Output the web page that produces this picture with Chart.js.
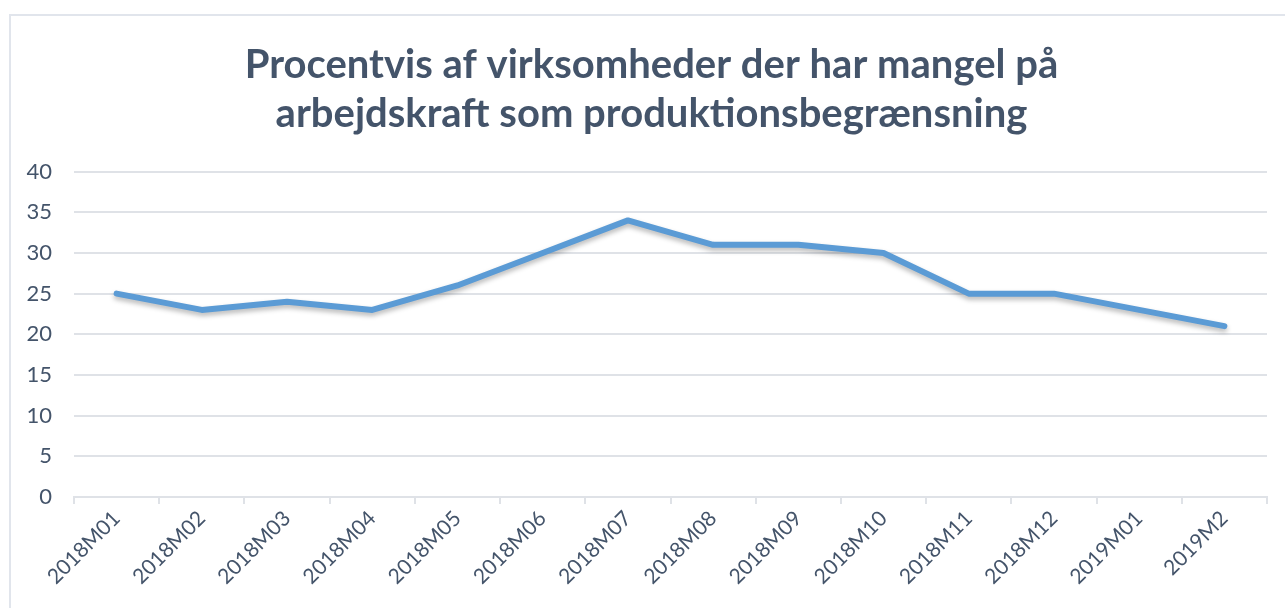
<!DOCTYPE html>
<html>
<head>
<meta charset="utf-8">
<script src="https://cdn.jsdelivr.net/npm/chart.js@4"></script>
<style>
  html, body { margin: 0; padding: 0; background: #fff; }
  #wrap { position: relative; width: 1285px; height: 608px; overflow: hidden; }
  #frame { position: absolute; left: 9px; top: 14px; right: 0; bottom: -10px;
           border-left: 2px solid #e1e5ec; border-top: 2px solid #e1e5ec; }
  canvas { position: absolute; left: 0; top: 0; }
</style>
</head>
<body>
<div id="wrap">
  <div id="frame"></div>
  <canvas id="chart" width="1285" height="608"></canvas>
</div>
<script>
// Data
const months = ['2018M01', '2018M02', '2018M03', '2018M04', '2018M05', '2018M06', '2018M07',
                '2018M08', '2018M09', '2018M10', '2018M11', '2018M12', '2019M01', '2019M2']
const share = [25, 23, 24, 23, 26, 30, 34, 31, 31, 30, 25, 25, 23, 21]
const titleLines = ['Procentvis af virksomheder der har mangel på', 'arbejdskraft som produktionsbegrænsning']

const textColor = '#44546a'
const gridColor = '#dfe2e7'

// soft drop shadow under the line, like the office chart
const lineShadow = {
    id: 'lineShadow',
    beforeDatasetDraw(chart) {
        const ctx = chart.ctx
        ctx.save()
        ctx.shadowColor = 'rgba(0, 0, 0, 0.28)'
        ctx.shadowBlur = 5
        ctx.shadowOffsetY = 3
    },
    afterDatasetDraw(chart) {
        chart.ctx.restore()
    }
}

// title sits a bit right of the canvas centre in the original
const nudgeTitle = {
    id: 'nudgeTitle',
    afterLayout(chart) {
        if (chart.titleBlock) {
            chart.titleBlock.left += 36
        }
    }
}

const ctx = document.getElementById('chart').getContext('2d')
new Chart(ctx, {
    type: 'line',
    data: {
        labels: months,
        datasets: [{
            data: share,
            borderColor: '#5b9bd5',
            borderWidth: 6,
            borderCapStyle: 'round',
            borderJoinStyle: 'round',
            pointRadius: 0,
            tension: 0,
            fill: false
        }]
    },
    options: {
        responsive: false,
        animation: false,
        layout: {
            padding: { top: 41, right: 18, left: 0, bottom: 0 }
        },
        plugins: {
            legend: { display: false },
            tooltip: { enabled: false },
            title: {
                display: true,
                text: titleLines,
                color: textColor,
                font: { family: 'Lato', size: 40, weight: 'bold', lineHeight: 1.22 },
                padding: { top: 0, bottom: 33 }
            }
        },
        scales: {
            x: {
                offset: true,
                grid: {
                    offset: true,
                    drawOnChartArea: false,
                    drawTicks: true,
                    tickLength: 7,
                    color: gridColor,
                    lineWidth: 2
                },
                border: { color: gridColor, width: 2 },
                ticks: {
                    color: textColor,
                    font: { family: 'Lato', size: 21 },
                    minRotation: 45,
                    maxRotation: 45,
                    padding: 2,
                    autoSkip: false
                },
                afterFit(scale) { scale.height = 111 }
            },
            y: {
                min: 0,
                max: 40,
                ticks: {
                    stepSize: 5,
                    color: textColor,
                    font: { family: 'Lato', size: 22 },
                    padding: 22
                },
                grid: {
                    color: gridColor,
                    lineWidth: 2,
                    drawTicks: false
                },
                border: { display: false },
                afterFit(scale) { scale.width = 74 }
            }
        }
    },
    plugins: [lineShadow, nudgeTitle]
})
</script>
</body>
</html>
